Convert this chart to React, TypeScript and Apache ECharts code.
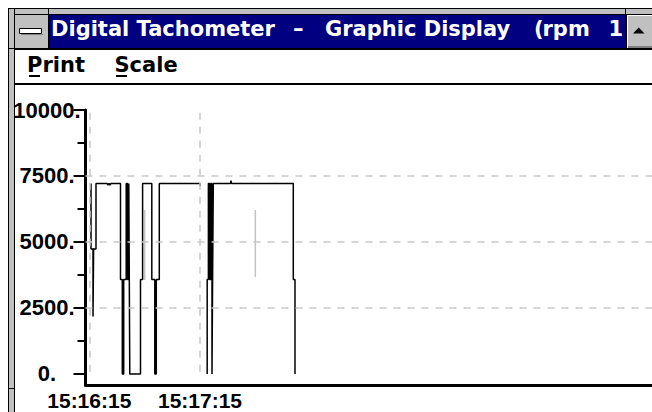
import React, { useEffect, useRef } from "react";
import * as echarts from "echarts";

// ---- texts ----
const titleParts = ["Digital Tachometer", "–", "Graphic Display", "(", "rpm", "1"];
const menuItems = ["Print", "Scale"];

// ---- axes ----
const timeTickSeconds = [0, 60]; // seconds after 15:16:15
const timeTickLabels = ["15:16:15", "15:17:15"];
const rpmTickValues = [0, 2500, 5000, 7500, 10000];
const rpmMinorTicks = [1250, 3750, 6250, 8750];
const rpmGridValues = [2500, 5000, 7500];
const timeGridSeconds = [0, 60];

// ---- trace, first run (seconds after 15:16:15, rpm) ----
const run1Seconds = [
  0.92, 0.92, 2.01, 2.01, 2.33, 3.63, 3.63, 9.59, 10.14, 10.68, 11.22, 11.76,
  16.91, 16.91, 17.89, 17.89, 18.64, 18.64, 20.0, 20.0, 20.76, 20.76, 21.41, 21.41,
  21.68, 21.68, 21.95, 21.95, 27.75, 27.75, 28.89, 28.89, 33.88, 33.88, 35.5, 35.5,
  36.31, 36.31, 37.94, 37.94, 60.0, 60.16,
];
const run1Rpm = [
  7220, 4730, 4730, 2180, 4730, 4730, 7220, 7220, 7150, 7220, 7150, 7220,
  7220, 3580, 3580, 0, 0, 3580, 3580, 7220, 7220, 3580, 3580, 7220,
  7220, 3580, 3580, 0, 0, 3580, 3580, 7220, 7220, 3580, 3580, 0,
  0, 3580, 3580, 7220, 7220, 7120,
];

// ---- trace, second run ----
const run2Seconds = [
  63.9, 63.9, 64.55, 64.55, 65.2, 65.2, 65.85, 65.85, 66.5, 66.5, 66.83, 66.83,
  67.21, 67.21, 76.53, 76.8, 77.07, 110.57, 110.57, 111.49, 111.49,
];
const run2Rpm = [
  0, 3580, 3580, 7220, 7220, 3580, 3580, 7220, 7220, 0, 0, 3580,
  3580, 7220, 7220, 7320, 7220, 7220, 3580, 3580, 0,
];

// ---- grey half-minute markers ----
const markerSeconds = [30, 90];
const markerTopRpm = [6210, 6210];
const markerBottomRpm = [3560, 3670];

const BLACK = "#000000";
const GREY = "#c0c0c0";
const NAVY = "#000080";

function rect(x: number, y: number, w: number, h: number, fill: string) {
  return { type: "rect", silent: true, shape: { x, y, width: w, height: h }, style: { fill } };
}

function text(t: string, x: number, y: number, fill: string) {
  return {
    type: "text",
    silent: true,
    x,
    y,
    style: {
      text: t,
      fill,
      fontSize: 21,
      fontWeight: "bold",
      fontFamily: "DejaVu Sans",
      align: "left",
      verticalAlign: "middle",
    },
  };
}

export default function App() {
  const ref = useRef<HTMLDivElement>(null);

  useEffect(() => {
    if (!ref.current) return;
    const chart = echarts.init(ref.current, null, { renderer: "svg" });

    const pairs = (xs: number[], ys: number[]) => xs.map((x, i) => [x, ys[i]]);
    const labelFont = {
      color: BLACK,
      fontFamily: "Liberation Sans",
      fontWeight: "bold" as const,
      fontSize: 22,
    };

    const titleX = [51, 293, 325, 534, 542.5, 608.5];
    const menuX = [27, 114.5];

    const graphic: any[] = [
      // outer sizing frame
      rect(8, 8, 644, 7, BLACK),
      rect(9, 9, 643, 5, GREY),
      rect(8, 8, 7, 404, BLACK),
      rect(9, 9, 5, 403, GREY),
      rect(48, 9, 1, 5, BLACK),
      rect(625, 9, 1, 5, BLACK),
      rect(9, 48, 5, 1, BLACK),
      rect(9, 388, 5, 1, BLACK),
      // caption + menu block
      rect(14, 14, 638, 71, BLACK),
      rect(15, 15, 33, 33, GREY),
      rect(50, 15, 576, 33, NAVY),
      rect(627, 15, 25, 33, GREY),
      rect(627, 15, 25, 1, "#ffffff"),
      rect(627, 15, 1, 33, "#ffffff"),
      rect(628, 46, 24, 2, "#808080"),
      rect(15, 50, 637, 33, "#ffffff"),
      rect(14, 84, 1, 328, BLACK),
      // system menu bar glyph
      {
        type: "rect",
        silent: true,
        shape: { x: 19.5, y: 28.5, width: 22, height: 5 },
        style: { fill: "#ffffff", stroke: BLACK, lineWidth: 1 },
      },
      rect(21, 34, 22, 1, "#808080"),
      // up arrow on button
      {
        type: "polygon",
        silent: true,
        shape: { points: [[633, 33.5], [644.5, 33.5], [638.75, 27.5]] },
        style: { fill: BLACK },
      },
      ...titleParts.map((t, i) => text(t, titleX[i], 29.3, "#ffffff")),
      ...menuItems.map((t, i) => text(t, menuX[i], 65.4, BLACK)),
      // menu mnemonics underlines
      rect(29, 75, 11, 2, BLACK),
      rect(116, 75, 11, 2, BLACK),
    ];

    const markSeries = markerSeconds.map((t, i) => ({
      type: "line",
      name: "marker" + i,
      data: [
        [t, markerTopRpm[i]],
        [t, markerBottomRpm[i]],
      ],
      symbol: "none",
      showSymbol: false,
      silent: true,
      z: 2,
      lineStyle: { color: "#c4c4c4", width: 1.5 },
      emphasis: { disabled: true },
      markLine:
        i === 0
          ? {
              silent: true,
              symbol: "none",
              label: { show: false },
              emphasis: { disabled: true },
              lineStyle: { color: "#c8c8c8", type: [7, 7], width: 1.5 },
              data: [
                ...rpmGridValues.map((v) => ({ yAxis: v })),
                ...timeGridSeconds.map((t) => [
                  { coord: [t, 9900] },
                  { coord: [t, -150] },
                ]),
              ],
            }
          : undefined,
    }));

    const traceStyle = {
      type: "line",
      symbol: "none",
      showSymbol: false,
      silent: true,
      z: 4,
      lineStyle: { color: BLACK, width: 1.5 },
      emphasis: { disabled: true },
    };

    chart.setOption({
      animation: false,
      backgroundColor: "#ffffff",
      tooltip: { show: false },
      grid: {
        left: 85.5,
        right: 0,
        top: 110,
        bottom: 27,
        containLabel: false,
        outerBoundsMode: "none",
      },
      xAxis: {
        type: "value",
        min: -2.06,
        max: 305,
        position: "bottom",
        axisLine: { show: true, onZero: false, lineStyle: { color: BLACK, width: 3 } },
        axisTick: { show: false },
        splitLine: { show: false },
        axisLabel: {
          ...labelFont,
          fontSize: 21,
          customValues: timeTickSeconds,
          margin: 6.5,
          lineHeight: 17,
          formatter: (v: number) => {
            const idx = timeTickSeconds.indexOf(v);
            return idx >= 0 ? timeTickLabels[idx] : "";
          },
        },
      },
      yAxis: [
        {
          type: "value",
          min: -417,
          max: 10000,
          position: "left",
          axisLine: { show: true, onZero: false, lineStyle: { color: BLACK, width: 3 } },
          axisTick: {
            show: true,
            inside: false,
            length: 12,
            customValues: rpmTickValues,
            lineStyle: { color: BLACK, width: 2 },
          },
          splitLine: { show: false },
          axisLabel: {
            ...labelFont,
            customValues: rpmTickValues,
            align: "center",
            margin: 38.5,
            formatter: (v: number) => `${v}.`,
          },
        },
        {
          type: "value",
          min: -417,
          max: 10000,
          position: "left",
          axisLine: { show: false, onZero: false },
          axisTick: {
            show: true,
            inside: false,
            length: 8,
            customValues: rpmMinorTicks,
            lineStyle: { color: BLACK, width: 2 },
          },
          splitLine: { show: false },
          axisLabel: { show: false },
        },
      ],
      series: [
        ...markSeries,
        { ...traceStyle, name: "rpm run 1", data: pairs(run1Seconds, run1Rpm) },
        { ...traceStyle, name: "rpm run 2", data: pairs(run2Seconds, run2Rpm) },
      ],
      graphic,
    });

    return () => chart.dispose();
  }, []);

  return (
    <div
      ref={ref}
      style={{ position: "absolute", left: 0, top: 0, width: 652, height: 412, background: "#fff" }}
    />
  );
}
